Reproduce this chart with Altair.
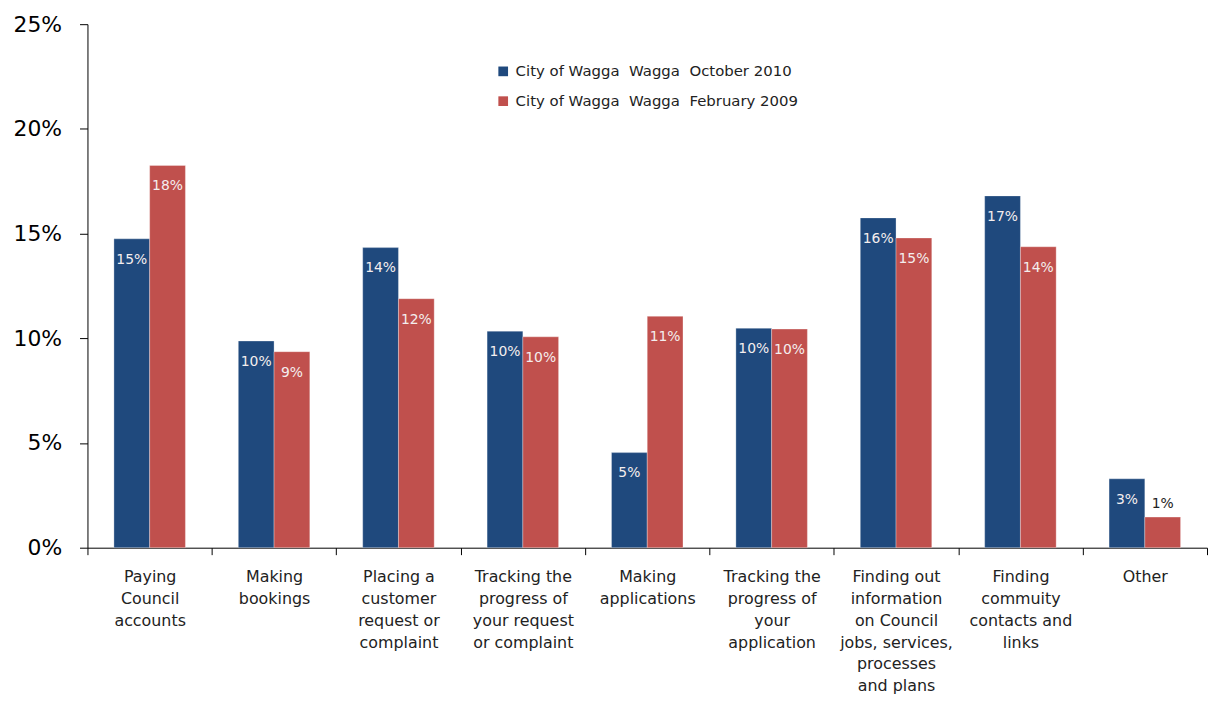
import altair as alt
import pandas as pd

categories = [
    "Paying|Council|accounts",
    "Making|bookings",
    "Placing a|customer|request or|complaint",
    "Tracking the|progress of|your request|or complaint",
    "Making|applications",
    "Tracking the|progress of|your|application",
    "Finding out|information|on Council|jobs, services,|processes|and plans",
    "Finding|commuity|contacts and|links",
    "Other",
]
series = [
    "City of Wagga\u00a0 Wagga\u00a0 October 2010",
    "City of Wagga\u00a0 Wagga\u00a0 February 2009",
]
oct2010 = [14.75, 9.87, 14.33, 10.34, 4.54, 10.48, 15.75, 16.8, 3.29]
feb2009 = [18.25, 9.36, 11.89, 10.07, 11.05, 10.44, 14.79, 14.37, 1.46]
colors = ["#1F497D", "#C0504D"]
y_ticks = [0, 0.05, 0.10, 0.15, 0.20, 0.25]

rows = []
for s, vals in zip(series, [oct2010, feb2009]):
    for c, v in zip(categories, vals):
        rows.append({"category": c, "series": s, "value": v / 100.0})
df = pd.DataFrame(rows)

FONT = "DejaVu Sans"

x_enc = alt.X(
    "category:N",
    sort=categories,
    scale=alt.Scale(paddingInner=0, paddingOuter=0),
    axis=alt.Axis(
        title=None,
        labelAngle=0,
        labelExpr="split(datum.label, '|')",
        tickBand="extent",
        tickSize=7,
        tickColor="#000000",
        domainColor="#000000",
        labelColor="#222222",
        labelFont=FONT,
        labelFontSize=16,
        labelLineHeight=22,
        labelPadding=14,
        labelLimit=0,
    ),
)
y_enc = alt.Y(
    "value:Q",
    scale=alt.Scale(domain=[0, 0.25], nice=False, zero=True),
    axis=alt.Axis(
        title=None,
        values=y_ticks,
        format=".0%",
        grid=False,
        tickSize=8,
        tickColor="#000000",
        domainColor="#000000",
        labelColor="#000000",
        labelFont=FONT,
        labelFontSize=22,
        labelPadding=18,
    ),
)
xoff = alt.XOffset(
    "series:N",
    sort=series,
    scale=alt.Scale(paddingInner=0, paddingOuter=0.74),
)

base = alt.Chart(df)

bars = base.mark_bar(stroke="white", strokeWidth=0.6, strokeOpacity=0.5).encode(
    x=x_enc,
    y=y_enc,
    xOffset=xoff,
    color=alt.Color(
        "series:N",
        sort=series,
        scale=alt.Scale(domain=series, range=colors),
        legend=alt.Legend(
            title=None,
            orient="none",
            legendX=411,
            legendY=40,
            padding=0,
            symbolType="square",
            symbolSize=95,
            symbolStrokeWidth=0,
            labelFont=FONT,
            labelFontSize=15,
            labelColor="#222222",
            labelOffset=5,
            labelLimit=0,
            rowPadding=14,
        ),
    ),
)

inside = base.transform_filter("datum.value >= 0.02").mark_text(
    baseline="middle", dy=21, font=FONT, fontSize=14, color="#F4EEEE"
).encode(
    x=alt.X("category:N", sort=categories),
    y="value:Q",
    xOffset=alt.XOffset("series:N", sort=series),
    text=alt.Text("value:Q", format=".0%"),
)

above = base.transform_filter("datum.value < 0.02").mark_text(
    baseline="middle", dy=-13, font=FONT, fontSize=14, color="#222222"
).encode(
    x=alt.X("category:N", sort=categories),
    y="value:Q",
    xOffset=alt.XOffset("series:N", sort=series),
    text=alt.Text("value:Q", format=".0%"),
)

chart = (
    alt.layer(bars, inside, above)
    .properties(
        width=1127,
        height=527,
        background="white",
        autosize=alt.AutoSizeParams(type="none"),
        padding={"left": 80, "top": 14, "right": 2, "bottom": 146},
    )
    .configure_view(strokeWidth=0, stroke="transparent")
)

chart.save("out.html", embed_options={"renderer": "svg", "actions": False})
